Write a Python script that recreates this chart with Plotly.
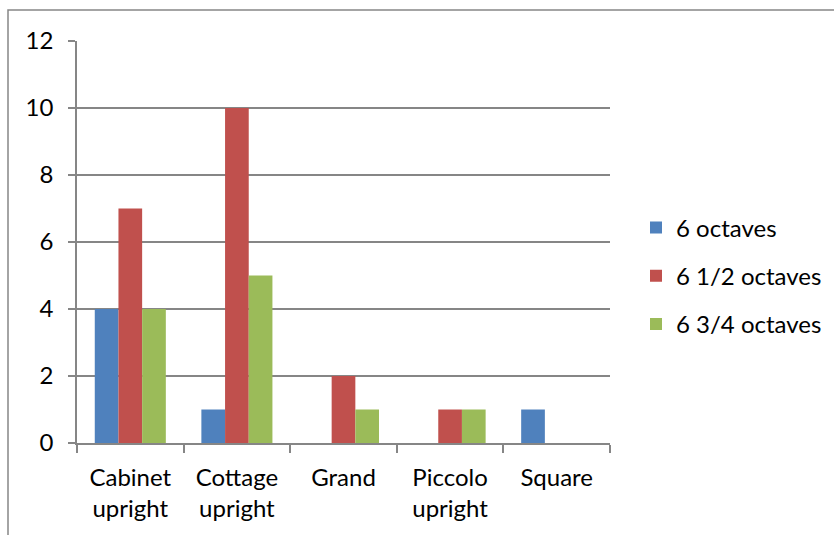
import plotly.graph_objects as go

categories = ["Cabinet<br>upright", "Cottage<br>upright", "Grand", "Piccolo<br>upright", "Square"]
series_names = ["6 octaves", "6 1/2 octaves", "6 3/4 octaves"]
six_octaves = [4, 1, 0, 0, 1]
six_half_octaves = [7, 10, 2, 1, 0]
six_three_quarter_octaves = [4, 5, 1, 1, 0]
y_ticks = [0, 2, 4, 6, 8, 10, 12]

colors = ["#4F81BD", "#C0504D", "#9BBB59"]
values = [six_octaves, six_half_octaves, six_three_quarter_octaves]

FONT = "Lato"
GRID = "#868686"

fig = go.Figure()
for name, vals, col in zip(series_names, values, colors):
    fig.add_trace(go.Bar(
        x=categories, y=vals, name=name, legendgroup=name,
        marker=dict(color=col, line=dict(width=0)),
    ))

W, H = 834, 535
L, R, T, B = 77, 224, 41, 92
pw, ph = W - L - R, H - T - B

def px_x(p):
    return (p - L) / pw

def px_y(p):
    return (H - B - p) / ph

fig.update_layout(
    width=W, height=H,
    margin=dict(l=L, r=R, t=T, b=B, autoexpand=False),
    paper_bgcolor="white", plot_bgcolor="white",
    barmode="group", bargap=1.5 / 4.5, bargroupgap=0,
    font=dict(family=FONT, size=24, color="black"),
    showlegend=True,
    legend=dict(
        x=px_x(636), xanchor="left", y=px_y(276), yanchor="middle",
        font=dict(family=FONT, size=24, color="black"),
        traceorder="grouped", tracegroupgap=14,
        bgcolor="rgba(0,0,0,0)",
    ),
    xaxis=dict(
        showgrid=False, showline=True, linecolor=GRID, linewidth=1.5,
        ticks="outside", tickson="boundaries", ticklen=8, tickwidth=1.5, tickcolor=GRID,
        tickfont=dict(family=FONT, size=24, color="black"),
        ticklabelstandoff=12,
        fixedrange=True,
    ),
    yaxis=dict(
        range=[0, 12], tickvals=y_ticks, showgrid=True, gridcolor=GRID, gridwidth=1.5,
        showline=True, linecolor=GRID, linewidth=1.5, zeroline=False,
        ticks="outside", ticklen=7, tickwidth=1.5, tickcolor=GRID,
        tickfont=dict(family=FONT, size=24, color="black"),
        ticklabelstandoff=10,
    ),
    shapes=[dict(
        type="rect", xref="paper", yref="paper",
        x0=px_x(8), x1=px_x(W + 20), y0=px_y(H + 20), y1=px_y(10),
        line=dict(color=GRID, width=1.5), fillcolor="rgba(0,0,0,0)", layer="below",
    )],
)

fig.write_html("out.html")
